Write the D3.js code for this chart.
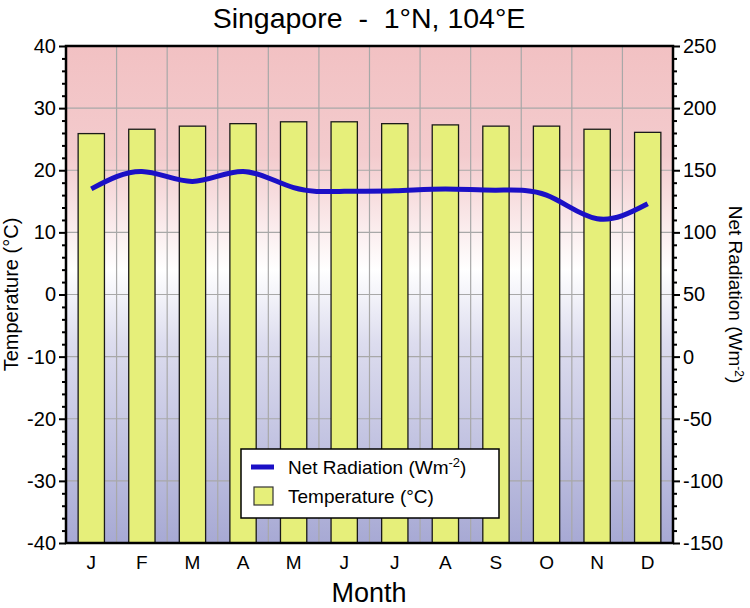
<!DOCTYPE html>
<html><head><meta charset="utf-8">
<script src="https://cdn.jsdelivr.net/npm/d3@7"></script>
<style>body{margin:0;background:#fff}svg{display:block}text{font-family:"Liberation Sans",Arial,Helvetica,sans-serif}</style>
</head><body>
<svg id="c" width="750" height="608"></svg>
<script>
const months = ["J","F","M","A","M","J","J","A","S","O","N","D"];
const temperature = [25.9, 26.6, 27.1, 27.5, 27.8, 27.8, 27.5, 27.3, 27.1, 27.1, 26.6, 26.1];
const netRadiation = [135, 149, 141, 149, 136, 133, 133.5, 135, 134, 130, 111, 123];
const tempTicks = [-40,-30,-20,-10,0,10,20,30,40];
const radTicks = [-150,-100,-50,0,50,100,150,200,250];

const svg = d3.select("#c");
const m = {l:66, r:673, t:46, b:543};
const idx = d3.range(12);
const x = d3.scaleBand().domain(idx).range([m.l, m.r]).paddingInner(0).paddingOuter(0);
const yT = d3.scaleLinear().domain([-40,40]).range([m.b, m.t]);
const yR = d3.scaleLinear().domain([-150,250]).range([m.b, m.t]);

const defs = svg.append("defs");
const g = defs.append("linearGradient").attr("id","bg").attr("x1",0).attr("x2",0).attr("y1",0).attr("y2",1);
g.append("stop").attr("offset","0%").attr("stop-color","#f2c1c3");
g.append("stop").attr("offset","22%").attr("stop-color","#f3cbcd");
g.append("stop").attr("offset","45%").attr("stop-color","#ffffff");
g.append("stop").attr("offset","60%").attr("stop-color","#dcdcee");
g.append("stop").attr("offset","100%").attr("stop-color","#a7a9d4");

svg.append("rect").attr("x",m.l).attr("y",m.t).attr("width",m.r-m.l).attr("height",m.b-m.t).attr("fill","url(#bg)");

// grid
const grid = svg.append("g").attr("stroke","#a8a8a8").attr("stroke-width",1.2);
d3.range(1,12).forEach(i=>{
  const xx = x(i);
  grid.append("line").attr("x1",xx).attr("x2",xx).attr("y1",m.t).attr("y2",m.b);
});
tempTicks.forEach(t=>{
  grid.append("line").attr("x1",m.l).attr("x2",m.r).attr("y1",yT(t)).attr("y2",yT(t));
});

// bars
const bw = x.bandwidth()*0.52;
svg.append("g").selectAll("rect").data(idx).join("rect")
  .attr("x",i=>x(i)+x.bandwidth()/2-bw/2)
  .attr("width",bw)
  .attr("y",i=>yT(temperature[i]))
  .attr("height",i=>yT(-40)-yT(temperature[i]))
  .attr("fill","#e6ef7a").attr("stroke","#1a1a1a").attr("stroke-width",1.3);

// line
const line = d3.line().x(i=>x(i)+x.bandwidth()/2).y(i=>yR(netRadiation[i])).curve(d3.curveNatural);
svg.append("path").datum(idx).attr("d",line).attr("fill","none").attr("stroke","#1b10c6").attr("stroke-width",5).attr("stroke-linecap","butt");

// frame
svg.append("rect").attr("x",m.l).attr("y",m.t).attr("width",m.r-m.l).attr("height",m.b-m.t).attr("fill","none").attr("stroke","#000").attr("stroke-width",2.5);

// axes
const fmt = d => String(d);
const axL = d3.axisLeft(yT).tickValues(tempTicks).tickSize(7).tickPadding(3).tickFormat(fmt);
const gL = svg.append("g").attr("transform",`translate(${m.l},0)`).call(axL);
const axLm = d3.axisLeft(yT).tickValues(d3.range(-40,41,2).filter(v=>v%10!==0)).tickSize(4).tickFormat("");
const gLm = svg.append("g").attr("transform",`translate(${m.l},0)`).call(axLm);
const axR = d3.axisRight(yR).tickValues(radTicks).tickSize(7).tickPadding(3).tickFormat(fmt);
const gR = svg.append("g").attr("transform",`translate(${m.r},0)`).call(axR);
const axRm = d3.axisRight(yR).tickValues(d3.range(-150,251,10).filter(v=>v%50!==0)).tickSize(4).tickFormat("");
const gRm = svg.append("g").attr("transform",`translate(${m.r},0)`).call(axRm);
const axB = d3.axisBottom(x).tickFormat(i=>months[i]).tickSize(0).tickPadding(13);
const gB = svg.append("g").attr("transform",`translate(0,${m.b})`).call(axB);
[gL,gLm,gR,gRm,gB].forEach(a=>{
  a.select(".domain").remove();
  a.selectAll(".tick line").attr("stroke","#000").attr("stroke-width",2);
  a.selectAll("text").attr("font-size",20).attr("fill","#000").attr("font-family","Liberation Sans, Arial, sans-serif");
});
gB.selectAll("text").attr("font-size",19);

// titles
svg.append("text").attr("x",369).attr("y",28).attr("text-anchor","middle").attr("font-size",28.5)
  .style("white-space","pre").text("Singapore  -  1°N, 104°E");
svg.append("text").attr("x",369).attr("y",602).attr("text-anchor","middle").attr("font-size",27).text("Month");
svg.append("text").attr("transform",`translate(18,${(m.t+m.b)/2}) rotate(-90)`).attr("text-anchor","middle").attr("font-size",20).text("Temperature (°C)");
const rl = svg.append("text").attr("transform",`translate(729,${(m.t+m.b)/2}) rotate(90)`).attr("text-anchor","middle").attr("font-size",19);
rl.append("tspan").text("Net Radiation (Wm");
rl.append("tspan").attr("dy",-6).attr("font-size",12).text("-2");
rl.append("tspan").attr("dy",6).text(")");

// legend
const lg = svg.append("g");
lg.append("rect").attr("x",241).attr("y",449).attr("width",258).attr("height",69).attr("fill","#fff").attr("stroke","#000").attr("stroke-width",1.5);
lg.append("line").attr("x1",251).attr("x2",274).attr("y1",467).attr("y2",467).attr("stroke","#1b10c6").attr("stroke-width",5);
lg.append("rect").attr("x",254).attr("y",487).attr("width",19).attr("height",18).attr("fill","#e6ef7a").attr("stroke","#333").attr("stroke-width",1.2);
const t1 = lg.append("text").attr("x",288).attr("y",474).attr("font-size",19);
t1.append("tspan").text("Net Radiation (Wm");
t1.append("tspan").attr("dy",-7).attr("font-size",13).text("-2");
t1.append("tspan").attr("dy",7).text(")");
lg.append("text").attr("x",288).attr("y",503).attr("font-size",19).text("Temperature (°C)");
</script>
</body></html>
